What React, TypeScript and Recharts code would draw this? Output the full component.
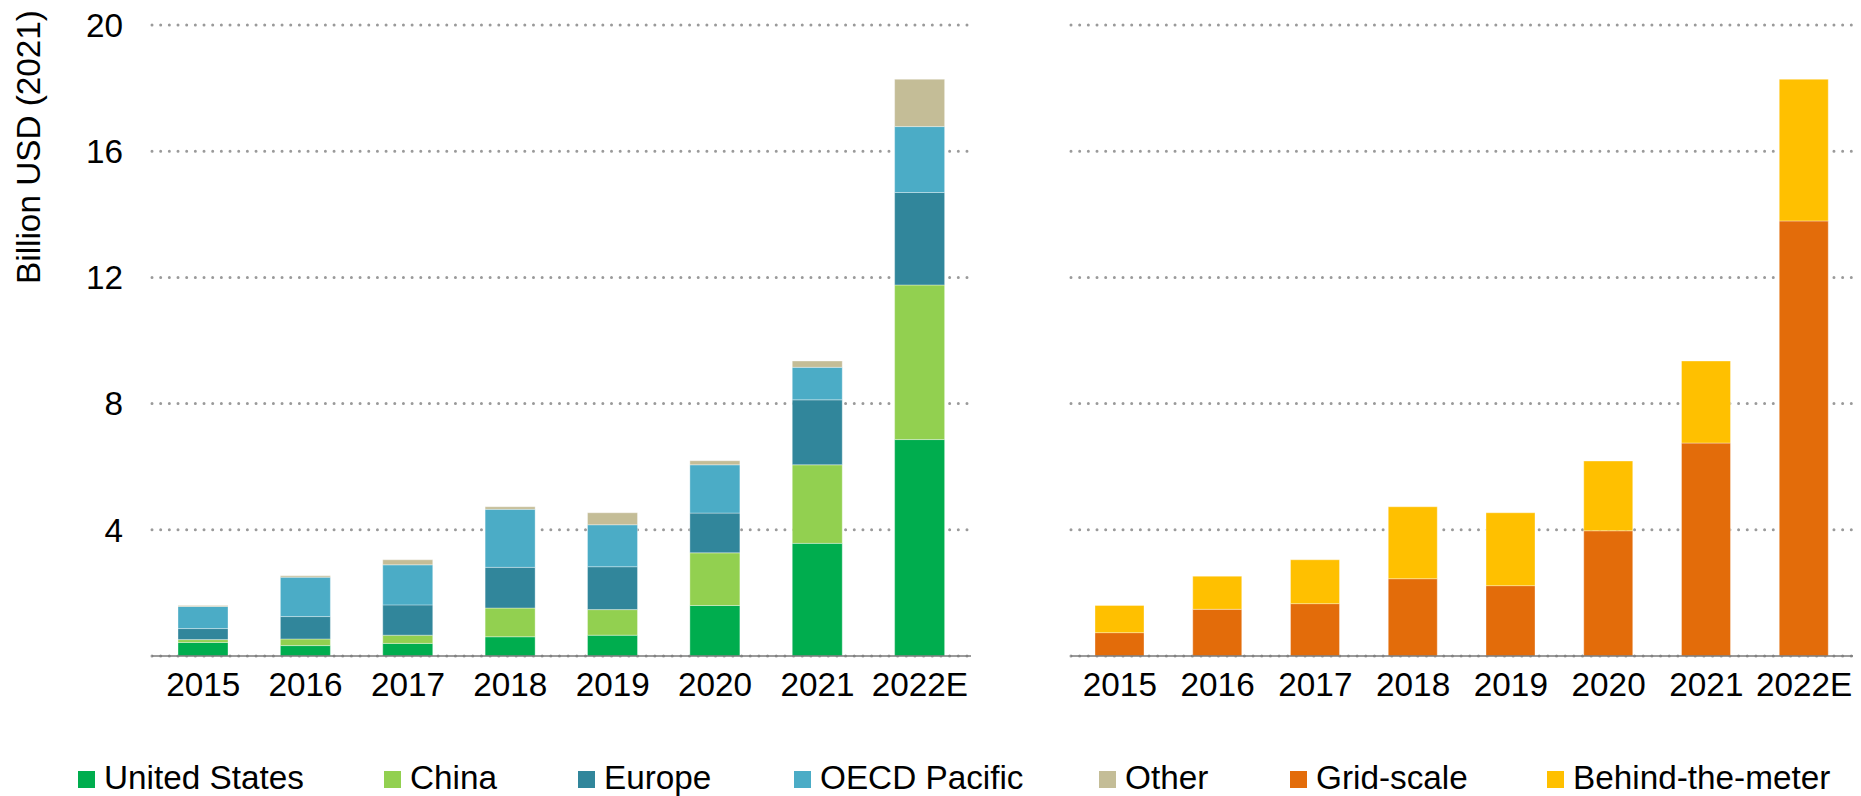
import React from 'react';
import { BarChart, Bar, XAxis, YAxis, CartesianGrid, Label } from 'recharts';

const years = ['2015', '2016', '2017', '2018', '2019', '2020', '2021', '2022E'];
const unitedStates = [0.43, 0.33, 0.40, 0.61, 0.66, 1.60, 3.57, 6.86];
const china = [0.09, 0.21, 0.26, 0.91, 0.81, 1.67, 2.49, 4.90];
const europe = [0.35, 0.71, 0.96, 1.29, 1.36, 1.26, 2.06, 2.93];
const oecdPacific = [0.70, 1.25, 1.27, 1.84, 1.33, 1.53, 1.03, 2.09];
const other = [0.03, 0.04, 0.16, 0.08, 0.38, 0.13, 0.20, 1.50];
const gridScale = [0.74, 1.48, 1.66, 2.45, 2.23, 3.97, 6.75, 13.79];
const behindTheMeter = [0.86, 1.05, 1.39, 2.28, 2.31, 2.21, 2.60, 4.49];
const yTicks = [4, 8, 12, 16, 20];

const regionSeries = [
  { key: 'us', name: 'United States', color: '#00AD4E' },
  { key: 'china', name: 'China', color: '#92D050' },
  { key: 'europe', name: 'Europe', color: '#31869B' },
  { key: 'oecd', name: 'OECD Pacific', color: '#4BACC6' },
  { key: 'other', name: 'Other', color: '#C4BD97' },
];
const typeSeries = [
  { key: 'grid', name: 'Grid-scale', color: '#E36C0A' },
  { key: 'btm', name: 'Behind-the-meter', color: '#FFC000' },
];
const legendLefts = [78, 384, 578, 794, 1099, 1290, 1547];

const regionData = years.map((y, i) => ({
  year: y,
  us: unitedStates[i],
  china: china[i],
  europe: europe[i],
  oecd: oecdPacific[i],
  other: other[i],
}));
const typeData = years.map((y, i) => ({
  year: y,
  grid: gridScale[i],
  btm: behindTheMeter[i],
}));

const FONT = '"Liberation Sans", Arial, sans-serif';
const FS = 33.3;
const tickStyle = { fill: '#000', fontSize: FS, fontFamily: FONT };

const YLabel = () => (
  <text
    x={28}
    y={147}
    transform="rotate(-90 28 147)"
    textAnchor="middle"
    dominantBaseline="central"
    fill="#000"
    fontSize={FS}
    fontFamily={FONT}
  >
    Billion USD (2021)
  </text>
);

const gridProps = {
  vertical: false,
  stroke: '#9a9a9a',
  strokeWidth: 3,
  strokeDasharray: '0 8.67',
  strokeLinecap: 'round' as const,
};

export default function App() {
  const legendItems = [...regionSeries, ...typeSeries];
  return (
    <div style={{ position: 'absolute', left: 0, top: 0, width: 1861, height: 796, background: '#fff', fontFamily: FONT }}>
      <div style={{ position: 'absolute', left: 0, top: 0 }}>
        <BarChart width={980} height={720} data={regionData} margin={{ top: 25, right: 9, left: 0, bottom: 34 }}>
          <CartesianGrid {...gridProps} />
          <XAxis
            dataKey="year"
            height={30}
            tickLine={false}
            tickSize={0}
            tickMargin={16}
            axisLine={{ stroke: '#7a7a7a', strokeWidth: 1.5 }}
            tick={tickStyle}
            interval={0}
          />
          <YAxis
            width={152}
            domain={[0, 20]}
            ticks={yTicks}
            axisLine={false}
            tickLine={false}
            tickSize={0}
            tickMargin={29}
            tick={tickStyle}
          >
            <Label content={<YLabel />} />
          </YAxis>
          {regionSeries.map((s) => (
            <Bar
              key={s.key}
              dataKey={s.key}
              name={s.name}
              stackId="a"
              fill={s.color}
              barSize={50}
              stroke="#ffffff"
              strokeOpacity={0.35}
              strokeWidth={1}
              isAnimationActive={false}
            />
          ))}
        </BarChart>
      </div>
      <div style={{ position: 'absolute', left: 1000, top: 0 }}>
        <BarChart width={861} height={720} data={typeData} margin={{ top: 25, right: 8, left: 71, bottom: 34 }}>
          <CartesianGrid {...gridProps} />
          <XAxis
            dataKey="year"
            height={30}
            tickLine={false}
            tickSize={0}
            tickMargin={16}
            axisLine={{ stroke: '#7a7a7a', strokeWidth: 1.5 }}
            tick={tickStyle}
            interval={0}
          />
          <YAxis hide width={0} domain={[0, 20]} ticks={yTicks} />
          {typeSeries.map((s) => (
            <Bar
              key={s.key}
              dataKey={s.key}
              name={s.name}
              stackId="b"
              fill={s.color}
              barSize={49}
              stroke="#ffffff"
              strokeOpacity={0.35}
              strokeWidth={1}
              isAnimationActive={false}
            />
          ))}
        </BarChart>
      </div>
      {legendItems.map((it, i) => (
        <div
          key={it.key}
          style={{
            position: 'absolute',
            left: legendLefts[i],
            top: 759,
            display: 'flex',
            alignItems: 'flex-start',
            lineHeight: '37px',
            fontSize: FS,
            color: '#000',
            whiteSpace: 'nowrap',
          }}
        >
          <span style={{ display: 'inline-block', width: 17, height: 17, background: it.color, marginTop: 12, marginRight: 9 }} />
          <span>{it.name}</span>
        </div>
      ))}
    </div>
  );
}
